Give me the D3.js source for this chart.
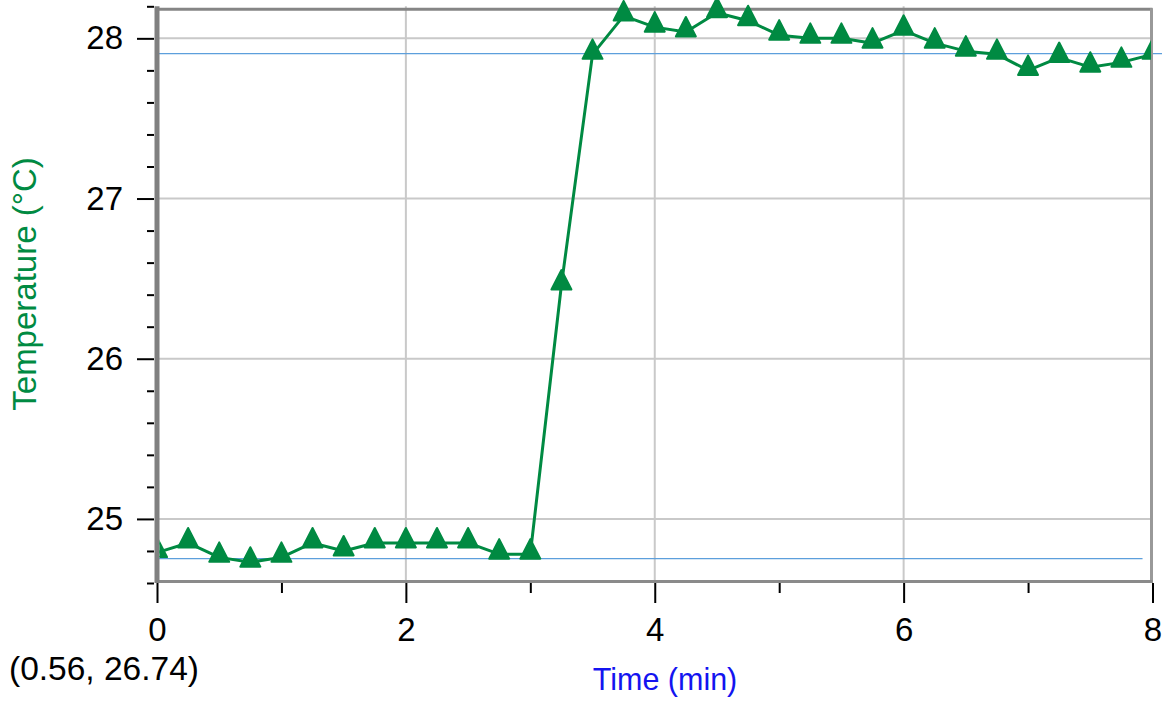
<!DOCTYPE html>
<html>
<head>
<meta charset="utf-8">
<script src="https://cdn.jsdelivr.net/npm/d3@7"></script>
<style>
  html, body { margin: 0; padding: 0; background: #fff; }
  svg { display: block; }
  text { font-family: "Liberation Sans", Arial, Helvetica, sans-serif; }
</style>
</head>
<body>
<svg id="chart" width="1162" height="702"></svg>
<script>
// Time stamps (min) and measured temperatures (°C)
const times = [0, 0.25, 0.5, 0.75, 1, 1.25, 1.5, 1.75, 2, 2.25, 2.5, 2.75, 3,
  3.25, 3.5, 3.75, 4, 4.25, 4.5, 4.75, 5, 5.25, 5.5, 5.75, 6, 6.25, 6.5, 6.75,
  7, 7.25, 7.5, 7.75, 8];
const temperatures = [24.79, 24.85, 24.76, 24.73, 24.76, 24.85, 24.80, 24.85,
  24.85, 24.85, 24.85, 24.78, 24.78, 26.46, 27.90, 28.14, 28.07, 28.04, 28.16,
  28.11, 28.02, 28.00, 28.00, 27.97, 28.05, 27.97, 27.92, 27.90, 27.80, 27.88,
  27.82, 27.85, 27.90];

// Horizontal reference levels (°C): final and initial temperature
const refLevels = [27.905, 24.752];
const refEnds = [8.08, 7.92];   // right end of each reference line (min)

// Axis ticks
const xMajorTicks = [0, 2, 4, 6, 8];
const xMinorTicks = [1, 3, 5, 7];
const yMajorTicks = [25, 26, 27, 28];
const yMinorTicks = [24.6, 24.8, 25.2, 25.4, 25.6, 25.8, 26.2, 26.4, 26.6, 26.8,
  27.2, 27.4, 27.6, 27.8, 28.2];

const xLabel = "Time (min)";
const yLabel = "Temperature (°C)";
const cursorText = "(0.56, 26.74)";

const green = "#008a42";
const svg = d3.select("#chart");

const x = d3.scaleLinear().domain([0, 8]).range([157, 1152.5]);
const y = d3.scaleLinear().domain([24.6, 28.2]).range([583, 6.3]);

const [x0, x1] = x.range();
const [yb, yt] = y.range();

// grid
const grid = svg.append("g").attr("stroke", "#c9c9c9").attr("stroke-width", 2);
grid.selectAll("line.gx").data(xMajorTicks.filter(d => d > 0 && d < 8)).join("line")
  .attr("x1", d => x(d)).attr("x2", d => x(d)).attr("y1", yt).attr("y2", yb);
grid.selectAll("line.gy").data(yMajorTicks).join("line")
  .attr("y1", d => y(d)).attr("y2", d => y(d)).attr("x1", x0).attr("x2", x1);

// reference lines
svg.append("g").selectAll("line").data(refLevels).join("line")
  .attr("x1", x0 + 2).attr("x2", (d, i) => x(refEnds[i]))
  .attr("y1", d => y(d)).attr("y2", d => y(d))
  .attr("stroke", "#5d9fdc").attr("stroke-width", 1.3);

// frame
const frame = svg.append("g").attr("fill", "none");
frame.append("line").attr("x1", x0).attr("x2", x1).attr("y1", yt + 3).attr("y2", yt + 3)
  .attr("stroke", "#858585").attr("stroke-width", 3);
frame.append("line").attr("x1", x1 - 1).attr("x2", x1 - 1).attr("y1", yt + 2).attr("y2", yb)
  .attr("stroke", "#999", "").attr("stroke-width", 3);
frame.append("line").attr("x1", x0).attr("x2", x1).attr("y1", yb - 1.5).attr("y2", yb - 1.5)
  .attr("stroke", "#8a8a8a").attr("stroke-width", 3);

// axes
function styleAxis(g) {
  g.select(".domain").remove();
  g.selectAll(".tick line").attr("stroke", "#000").attr("stroke-width", 2);
  g.selectAll(".tick text").attr("fill", "#000").attr("font-size", 33)
    .attr("font-family", "'Liberation Sans', Arial, Helvetica, sans-serif");
}

svg.append("g").attr("transform", `translate(0,${yb})`)
  .call(d3.axisBottom(x).tickValues(xMajorTicks).tickSize(20).tickPadding(15)
    .tickFormat(d3.format("d")))
  .call(styleAxis);
svg.append("g").attr("transform", `translate(0,${yb})`)
  .call(d3.axisBottom(x).tickValues(xMinorTicks).tickSize(10).tickFormat(""))
  .call(styleAxis);

svg.append("g").attr("transform", `translate(154,0)`)
  .call(d3.axisLeft(y).tickValues(yMajorTicks).tickSize(17).tickPadding(14)
    .tickFormat(d3.format("d")))
  .call(styleAxis);
svg.append("g").attr("transform", `translate(154,0)`)
  .call(d3.axisLeft(y).tickValues(yMinorTicks).tickSize(7).tickFormat(""))
  .call(styleAxis);

// thick left axis bar
svg.append("line").attr("x1", x0).attr("x2", x0).attr("y1", yt).attr("y2", yb)
  .attr("stroke", "#808080").attr("stroke-width", 5);

// data series, clipped to the horizontal extent of the plot
svg.append("clipPath").attr("id", "plotClip")
  .append("rect").attr("x", x0 + 2.5).attr("y", 0).attr("width", x1 - x0 - 4).attr("height", 702);

const series = svg.append("g").attr("clip-path", "url(#plotClip)");
const pts = times.map((t, i) => [t, temperatures[i]]);

series.append("path").datum(pts)
  .attr("d", d3.line().x(d => x(d[0])).y(d => y(d[1])))
  .attr("fill", "none").attr("stroke", green).attr("stroke-width", 3)
  .attr("stroke-linejoin", "round");

series.selectAll("path.mark").data(pts).join("path")
  .attr("class", "mark")
  .attr("transform", d => `translate(${x(d[0])},${y(d[1])})`)
  .attr("d", "M0,-15L10,4.5L-10,4.5Z")
  .attr("fill", green).attr("stroke", green).attr("stroke-width", 2)
  .attr("stroke-linejoin", "round");

// labels
svg.append("text").attr("x", 665).attr("y", 690).attr("text-anchor", "middle")
  .attr("font-size", 30.5).attr("fill", "#1414f0").text(xLabel);

svg.append("text").attr("transform", "translate(36,284) rotate(-90)")
  .attr("text-anchor", "middle").attr("font-size", 33).attr("fill", green).text(yLabel);

svg.append("text").attr("x", 9).attr("y", 680)
  .attr("font-size", 33.5).attr("fill", "#000").text(cursorText);
</script>
</body>
</html>
